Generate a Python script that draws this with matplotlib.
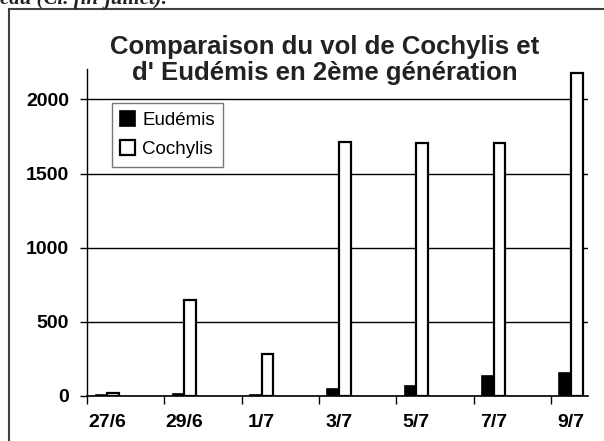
import matplotlib
matplotlib.use("Agg")
import matplotlib.pyplot as plt
from matplotlib.patches import Rectangle
import numpy as np

categories = ["27/6", "29/6", "1/7", "3/7", "5/7", "7/7", "9/7"]
eudemis = [5, 15, 5, 47, 65, 132, 152]
cochylis = [20, 650, 284, 1715, 1705, 1705, 2180]
yticks = [0, 500, 1000, 1500, 2000]

W, H = 604, 441
fig = plt.figure(figsize=(W / 100, H / 100), dpi=100)
fig.patch.set_facecolor("white")

# outer frame (partially outside the picture)
fig.patches.append(Rectangle((9 / W, -0.1), 1.2, 1 - 9 / H + 0.1,
                             transform=fig.transFigure, fill=False,
                             edgecolor="#404040", linewidth=1.5))

# clipped caption text at top
fig.text(0.0, 1 - 4 / H, "eau (Cl. fin-juillet).", fontsize=15,
         family="Liberation Serif", style="italic", weight="bold",
         ha="left", va="baseline", color="#222222")

ax = fig.add_axes([87 / W, 1 - 396 / H, (588 - 87) / W, (396 - 69) / H])
x = np.arange(len(categories))
bw = 0.149
ax.bar(x - bw / 2, eudemis, width=bw, color="black", edgecolor="black",
       linewidth=1.2, label="Eudémis", zorder=3)
ax.bar(x + bw / 2, cochylis, width=bw, color="white", edgecolor="black",
       linewidth=1.6, label="Cochylis", zorder=3)

ax.set_xlim(-0.259, 6.22)
ax.set_ylim(0, 2205)
ax.set_yticks(yticks)
ax.set_yticklabels([str(v) for v in yticks])
ax.yaxis.grid(True, color="black", linewidth=1.0)
ax.set_axisbelow(True)

ax.set_xticks(x)
ax.set_xticklabels(categories)
ax.set_xticks(np.arange(len(categories)) - 0.259, minor=True)
ax.tick_params(axis="x", which="major", length=0, pad=13)
ax.tick_params(axis="x", which="minor", length=6, direction="out", width=1)
ax.tick_params(axis="y", length=5, direction="out", width=1, pad=8)
for lab in ax.get_xticklabels() + ax.get_yticklabels():
    lab.set_fontfamily("Liberation Sans")
    lab.set_fontweight("bold")
    lab.set_fontsize(14)

for s in ["top", "right"]:
    ax.spines[s].set_visible(False)
ax.spines["left"].set_linewidth(1.0)
ax.spines["bottom"].set_linewidth(1.2)

leg = ax.legend(loc="upper left", bbox_to_anchor=((112 - 87) / (588 - 87), (396 - 103) / (396 - 69)),
                frameon=True, fancybox=False, edgecolor="#555555",
                prop={"family": "Liberation Sans", "size": 13.5},
                handlelength=0.8, handleheight=0.8, handletextpad=0.35,
                borderpad=0.45, labelspacing=0.6, borderaxespad=0)
leg.get_frame().set_linewidth(1.0)

fig.text(325 / W, 1 - 60 / H, "Comparaison du vol de Cochylis et\nd' Eudémis en 2ème génération",
         ha="center", va="center", fontsize=18.5, fontweight="bold",
         family="Liberation Sans", color="#222222", linespacing=1.1)

fig.savefig("out.png", dpi=100)
